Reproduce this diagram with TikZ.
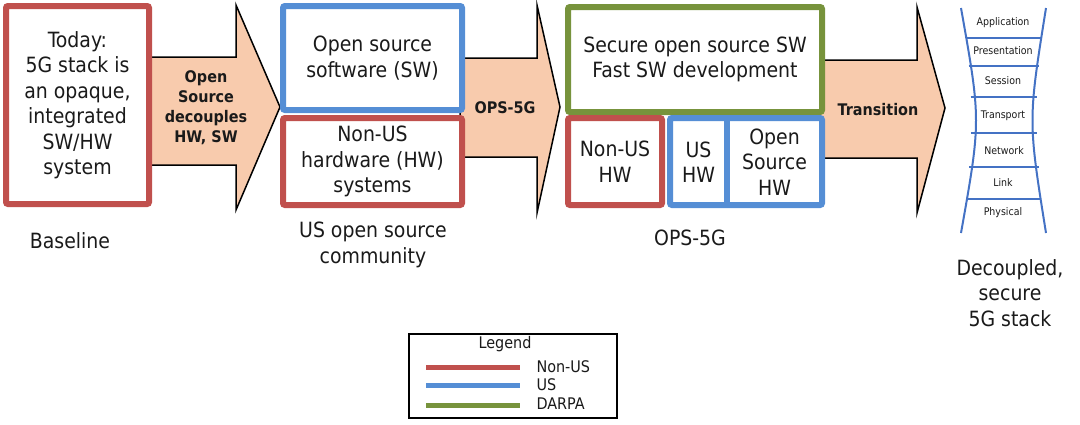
\documentclass[tikz,border=0pt]{standalone}
\usepackage{fontspec}
\setmainfont{DejaVu Sans Condensed}
\definecolor{nonus}{HTML}{C0504D}
\definecolor{us}{HTML}{558ED5}
\definecolor{darpa}{HTML}{77933C}
\definecolor{peach}{HTML}{F8CBAD}
\definecolor{stackblue}{HTML}{4472C4}
\definecolor{ink}{HTML}{1A1A1A}
\begin{document}
\begin{tikzpicture}[x=1pt,y=-1pt,
  box/.style={draw, line width=6pt, rounded corners=2pt, fill=white, inner sep=0pt,
    align=center, text=ink, font=\fontsize{21}{25.5}\selectfont},
  bigarrow/.style={fill=peach, draw=black, line width=1.5pt, line join=miter},
  albl/.style={align=center, text=ink, font=\fontsize{16}{20}\selectfont\bfseries},
  captxt/.style={align=center, text=ink, font=\fontsize{21}{25.5}\selectfont},
  layer/.style={text=ink, font=\fontsize{10.5}{12}\selectfont},
  stackline/.style={draw=stackblue, line width=2pt},
  legline/.style={line width=5pt},
  legtxt/.style={anchor=west, text=ink, font=\fontsize{16}{18}\selectfont}]
\useasboundingbox (0,0) rectangle (1080,424);

% block arrows (drawn first, boxes overlap their tails)
\draw[bigarrow] (150,57) -- (236,57) -- (236,5) -- (280,107) -- (236,210) -- (236,165) -- (150,165) -- cycle;
\draw[bigarrow] (460,58) -- (537,58) -- (537,5) -- (560,107) -- (537,213) -- (537,157) -- (460,157) -- cycle;
\draw[bigarrow] (820,60) -- (917,60) -- (917,7) -- (945,108) -- (917,213) -- (917,158) -- (820,158) -- cycle;
\node[albl] (a1) at (206,108) {Open\\Source\\decouples\\HW, SW};
\node[albl] (a2) at (505,108) {OPS-5G};
\node[albl] (a3) at (878,110) {Transition};

% boxes
\node[box, draw=nonus, minimum width=143pt, minimum height=198pt] (today) at (77.5,105)
  {Today:\\5G stack is\\an opaque,\\integrated\\SW/HW\\system};
\node[box, draw=us, minimum width=179pt, minimum height=104pt] (oss) at (372.5,58)
  {Open source\\software (SW)};
\node[box, draw=nonus, minimum width=179pt, minimum height=87pt] (nushw) at (372.5,161.5)
  {Non-US\\hardware (HW)\\systems};
\node[box, draw=darpa, minimum width=254pt, minimum height=105pt] (sec) at (695,59.5)
  {Secure open source SW\\Fast SW development};
\node[box, draw=nonus, minimum width=94pt, minimum height=87pt] (nus) at (615,161.5)
  {Non-US\\HW};
\node[box, draw=us, minimum width=152pt, minimum height=87pt] (ushwbox) at (746,161.5) {};
\draw[us, line width=6pt] (727,118) -- (727,205);
\node[captxt] (ushw) at (698.5,162) {US\\HW};
\node[captxt] (oshw) at (774.5,162) {Open\\Source\\HW};

% captions
\node[captxt] (base) at (70,241) {Baseline};
\node[captxt] (comm) at (373,245) {US open source\\community};
\node[captxt] (ops) at (690,238) {OPS-5G};
\node[captxt] (dec) at (1010,293) {Decoupled,\\secure\\5G stack};

% protocol stack
\draw[stackline] (961,8) .. controls (981,120.5) .. (961,233);
\draw[stackline] (1046,8) .. controls (1028,120.5) .. (1046,233);
\draw[stackline] (965.6,38) -- (1041.8,38);
\draw[stackline] (968.7,66) -- (1039.1,66);
\draw[stackline] (970.6,97) -- (1037.4,97);
\draw[stackline] (970.9,133) -- (1037.1,133);
\draw[stackline] (969.3,167) -- (1038.5,167);
\draw[stackline] (966.1,199) -- (1041.4,199);
\node[layer] (l7) at (1003,23) {Application};
\node[layer] (l6) at (1003,51) {Presentation};
\node[layer] (l5) at (1003,81) {Session};
\node[layer] (l4) at (1003,116) {Transport};
\node[layer] (l3) at (1004,151) {Network};
\node[layer] (l2) at (1003,183) {Link};
\node[layer] (l1) at (1003,213) {Physical};

% legend
\draw[line width=1.5pt] (409,334) rectangle (617,418);
\node[text=ink, font=\fontsize{16}{18}\selectfont] (leg) at (505,344) {Legend};
\draw[legline, nonus] (426,367) -- (520,367);
\draw[legline, us] (426,385) -- (520,385);
\draw[legline, darpa] (426,405) -- (520,405);
\node[legtxt] (ln) at (533,367) {Non-US};
\node[legtxt] (lu) at (533,385) {US};
\node[legtxt] (ld) at (533,404) {DARPA};
\end{tikzpicture}
\end{document}
